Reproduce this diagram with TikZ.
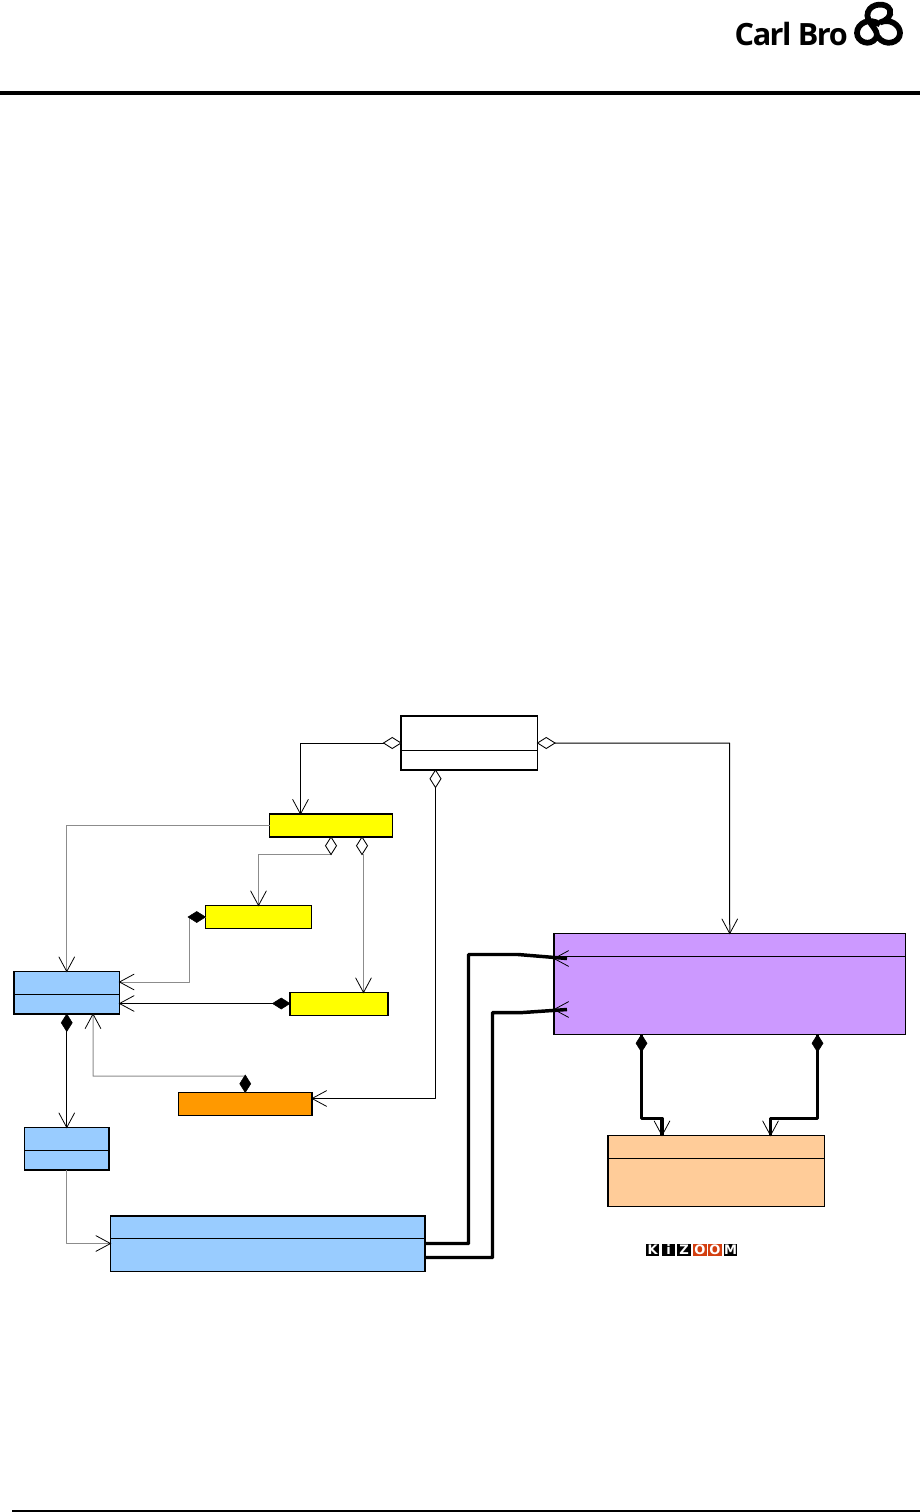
\documentclass[tikz,border=0pt]{standalone}
\usepackage{fontspec}
\setmainfont{Open Sans}
\newfontfamily\kzfont{DejaVu Sans}
\usetikzlibrary{calc}
\definecolor{lyellow}{HTML}{FFFF00}
\definecolor{lblue}{HTML}{99CCFF}
\definecolor{lpurple}{HTML}{CC99FF}
\definecolor{lpeach}{HTML}{FFCC99}
\definecolor{lorange}{HTML}{FF9900}
\definecolor{kred}{HTML}{D33F10}
\definecolor{glin}{HTML}{8C8C8C}
\tikzset{
 x=0.75pt,y=-0.75pt,
 cls/.style={draw=black,line width=0.8pt,inner sep=0pt,outer sep=0pt},
 divider/.style={line width=0.75pt},
 assoc/.style={line width=0.75pt,line join=round},
 rel/.style={assoc,draw=black},
 grel/.style={assoc,draw=glin},
 tipo/.style={line width=0.6pt,draw=black,line cap=round},
 dopen/.style={draw=black,fill=white,line width=0.65pt},
 dfill/.style={draw=black,fill=black,line width=0.4pt},
 thk/.style={line width=2.6pt,draw=black,line join=round},
 ksq/.style={inner sep=0pt,outer sep=0pt,text=white,minimum height=9pt,font=\kzfont\fontsize{9.8}{9.8}\selectfont\bfseries},
}
% diamond with one end at (#1), long axis towards direction #2 degrees
\newcommand{\dmd}[3]{\path[#3,shift={(#1)},rotate=#2] (0,0)--(8.75,-5.5)--(17.5,0)--(8.75,5.5)--cycle;}
% open arrow head with the tip at (#1), line coming from direction #2
\newcommand{\barb}[2]{\draw[tipo,shift={(#1)},rotate=#2] (14.5,-7.8)--(0,0)--(14.5,7.8);}
\begin{document}
\begin{tikzpicture}
\useasboundingbox (0,0) rectangle (920,1512);
\fill[white] (0,0) rectangle (920,1512);
\draw[line width=2.4pt] (0,93) -- (920,93);
\draw[line width=1.2pt] (12,1510.8) -- (920,1510.8);
% logo
\node[anchor=base east,inner sep=0pt,font=\fontsize{23}{24}\selectfont\bfseries\addfontfeature{LetterSpace=-5}] (logotext) at (848,45.5) {Carl Bro};
\draw[line width=4.3pt,draw=black,line cap=butt] (880,24.5) .. controls (870,17) and (857,23) .. (857,33) .. controls (857,42) and (870,47) .. (876,38) .. controls (881,30) and (864,22) .. (868,12) .. controls (871,3) and (887,2) .. (890,10) .. controls (892,16) and (886,21) .. (880,22.5) .. controls (890,18) and (900,25) .. (900,33) .. controls (900,43) and (885,47) .. (878,37);
% class boxes
\node[cls,fill=white,minimum width=136.5*0.75pt,minimum height=54*0.75pt] (top) at (469.25,743) {};
\node[cls,fill=lyellow,minimum width=123*0.75pt,minimum height=23*0.75pt] (yone) at (331,825.5) {};
\node[cls,fill=lyellow,minimum width=106*0.75pt,minimum height=23*0.75pt] (ytwo) at (258.5,917) {};
\node[cls,fill=lyellow,minimum width=98*0.75pt,minimum height=23*0.75pt] (ythree) at (339,1004) {};
\node[cls,fill=lblue,minimum width=105.5*0.75pt,minimum height=42.5*0.75pt] (ba) at (66.75,992.75) {};
\node[cls,fill=lblue,minimum width=84.5*0.75pt,minimum height=42.5*0.75pt] (bb) at (66.75,1148.75) {};
\node[cls,fill=lorange,minimum width=133.5*0.75pt,minimum height=23*0.75pt] (org) at (245.25,1104) {};
\node[cls,fill=lblue,minimum width=314.5*0.75pt,minimum height=55.5*0.75pt] (bc) at (267.75,1243.75) {};
\node[cls,fill=lpurple,minimum width=351.5*0.75pt,minimum height=101*0.75pt] (pur) at (729.75,984) {};
\node[cls,fill=lpeach,minimum width=216.5*0.75pt,minimum height=71*0.75pt] (pch) at (716.25,1171) {};
% dividers
\draw[divider] (top.west|-0,750) -- (top.east|-0,750);
\draw[divider] (ba.west|-0,994.5) -- (ba.east|-0,994.5);
\draw[divider] (bb.west|-0,1150) -- (bb.east|-0,1150);
\draw[divider] (bc.west|-0,1238.5) -- (bc.east|-0,1238.5);
\draw[divider] (pur.west|-0,956) -- (pur.east|-0,956);
\draw[divider] (pch.west|-0,1158.5) -- (pch.east|-0,1158.5);
% ports
\coordinate (p1) at (top.west|-0,743);
\coordinate (p2) at (top.east|-0,743);
\coordinate (p3) at (435.5,0|-top.south);
\coordinate (p4) at (331,0|-yone.south);
\coordinate (p5) at (362,0|-yone.south);
\coordinate (pt1) at (300.5,0|-yone.north);
\coordinate (pt3) at (org.east|-0,1098.5);
\coordinate (pt5) at (363.5,0|-ythree.north);
\coordinate (pa1) at (ba.east|-0,982);
\coordinate (pa2) at (ba.east|-0,1003.5);
\coordinate (pa3) at (93,0|-ba.south);
\coordinate (pc1) at (bc.east|-0,1243.5);
\coordinate (pc2) at (bc.east|-0,1257.5);
\coordinate (pp1) at (641.5,0|-pur.south);
\coordinate (pp2) at (817.5,0|-pur.south);
\coordinate (pq1) at (662,0|-pch.north);
\coordinate (pq2) at (770.5,0|-pch.north);
% connectors
\draw[rel] (p1) -- (300.5,743) -- (pt1);
\draw[rel] (p2) -- (729.5,743) -- (pur.north);
\draw[rel] (p3) -- (435.5,1098.5) -- (pt3);
\draw[grel] (yone.west) -- (ba.north|-yone.west) -- (ba.north);
\draw[grel] (p4) -- (331,854) -- (258.5,854) -- (ytwo.north);
\draw[grel] (p5) -- (362,854) -- (363.5,854) -- (pt5);
\draw[grel] (ytwo.west) -- (189,917) -- (189,982) -- (pa1);
\draw[rel] (ythree.west|-pa2) -- (pa2);
\draw[rel] (ba.south) -- (bb.north);
\draw[grel] (org.north) -- (245,1076) -- (93,1076) -- (pa3);
\draw[grel] (bb.south) -- (66.75,1243.5) -- (bc.west|-pc1);
\draw[thk] (pc1) -- (468.5,1243.5) -- (468.5,954.5) -- (518,954.5) -- (567,958.5);
\draw[thk] (pc2) -- (492.5,1257.5) -- (492.5,1012.7) -- (520,1012.7) -- (567,1009.5);
\draw[thk] (pp1) -- (641.5,1118.5) -- (662,1118.5) -- (pq1);
\draw[thk] (pp2) -- (817.5,1118.5) -- (770.5,1118.5) -- (pq2);
% diamonds
\dmd{p1}{180}{dopen}
\dmd{p2}{0}{dopen}
\dmd{p3}{-90}{dopen}
\dmd{p4}{-90}{dopen}
\dmd{p5}{-90}{dopen}
\dmd{ytwo.west}{180}{dfill}
\dmd{ythree.west|-pa2}{180}{dfill}
\dmd{ba.south}{-90}{dfill}
\dmd{org.north}{90}{dfill}
\dmd{pp1}{-90}{dfill}
\dmd{pp2}{-90}{dfill}
% open arrow heads
\barb{pt1}{90}
\barb{pur.north}{90}
\barb{pt3}{0}
\barb{ba.north}{90}
\barb{ytwo.north}{90}
\barb{pt5}{90}
\barb{pa1}{0}
\barb{pa2}{0}
\barb{bb.north}{90}
\barb{pa3}{-90}
\barb{bc.west|-pc1}{180}
\barb{pur.west|-0,958.5}{0}
\barb{pur.west|-0,1009.5}{0}
\barb{pq1}{90}
\barb{pq2}{90}
% kizoom logo
\foreach \nm/\lx/\lw/\lt/\col in {kk/652.7/10/K/black,ki/668.5/10/i/black,kz/684/10/Z/black,ko/700/10.7/O/kred,kp/715/10.7/O/kred,km/730.7/10/M/black}{
 \node[ksq,fill=\col,minimum width=\lw pt] (\nm) at (\lx,1250) {\lt};
}
\end{tikzpicture}
\end{document}
